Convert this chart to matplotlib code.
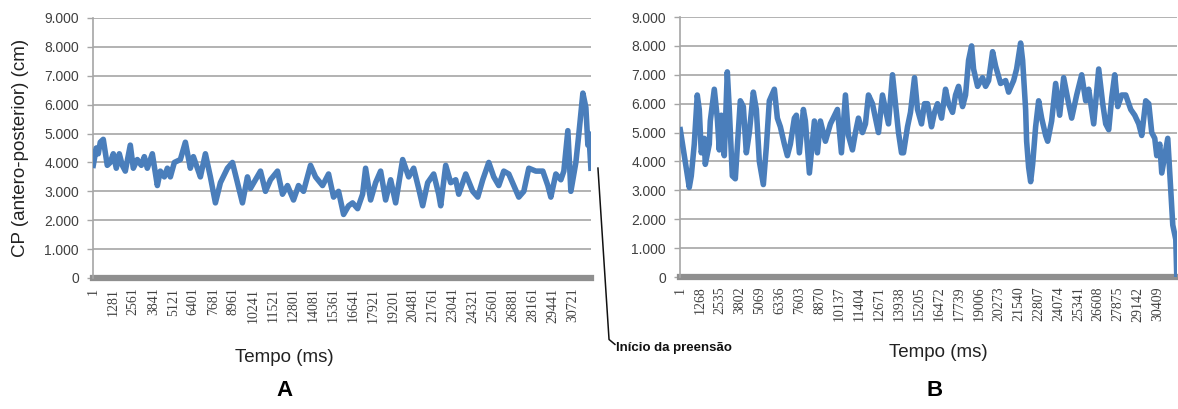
import matplotlib
matplotlib.use("Agg")
import matplotlib.pyplot as plt
from matplotlib.ticker import FuncFormatter
from matplotlib.lines import Line2D

plt.rcParams['font.family'] = ['Liberation Sans', 'DejaVu Sans']

# Panel A - time (ms) and CP antero-posterior
timeA = [1, 192, 320, 449, 641, 897, 1090, 1282, 1474, 1666, 1859, 2051, 2371, 2564,
         2820, 3076, 3269, 3461, 3781, 4102, 4294, 4550, 4743, 4935, 5191, 5576, 5896,
         6216, 6409, 6665, 6857, 7178, 7498, 7819, 8139, 8588, 8908, 9229, 9549, 9870,
         10062, 10383, 10703, 11023, 11344, 11793, 12113, 12433, 12818, 13138, 13459,
         13907, 14228, 14677, 15061, 15382, 15702, 16023, 16343, 16599, 16920, 17240,
         17432, 17753, 18073, 18394, 18714, 19035, 19355, 19804, 20188, 20509, 20829,
         21085, 21406, 21791, 22111, 22239, 22560, 22880, 23201, 23393, 23842, 24290,
         24611, 24931, 25316, 25636, 25956, 26277, 26597, 26918, 27238, 27559, 27879,
         28328, 28776, 29097, 29289, 29610, 29930, 30122, 30378, 30571, 30891, 31084,
         31340, 31532, 31660, 31724, 31852]
cpA = [3900, 4500, 4300, 4700, 4800, 3900, 4000, 4300, 3800, 4300, 3900, 3700, 4600, 3800,
       4100, 3900, 4200, 3800, 4300, 3200, 3700, 3500, 3800, 3500, 4000, 4100, 4700,
       3800, 4200, 3800, 3500, 4300, 3500, 2600, 3300, 3800, 4000, 3300, 2600, 3500,
       3100, 3400, 3700, 3000, 3400, 3700, 2900, 3200, 2700, 3200, 3000,
       3900, 3500, 3200, 3600, 2800, 3000, 2200, 2500, 2600, 2400, 2900,
       3800, 2700, 3300, 3700, 2700, 3400, 2600, 4100, 3500, 3800, 3100,
       2500, 3300, 3600, 2900, 2500, 3900, 3300, 3400, 2900, 3600, 3000,
       2800, 3400, 4000, 3500, 3200, 3700, 3600, 3200, 2800, 3000, 3800,
       3700, 3700, 3200, 2800, 3600, 3400, 3700, 5100, 3000, 4000, 5000,
       6400, 5900, 4600, 5000, 3800]

# Panel B
timeB = [1, 319, 573, 701, 892, 1083, 1210, 1338, 1529, 1593, 1848, 1911, 2166, 2357,
         2485, 2612, 2803, 2994, 3122, 3313, 3504, 3631, 3823, 4014, 4205, 4396, 4651,
         4842, 5033, 5288, 5479, 5670, 5989, 6180, 6371, 6626, 6817, 7008, 7263, 7390,
         7581, 7836, 7964, 8219, 8537, 8728, 8919, 9238, 9557, 10002, 10257, 10512,
         10703, 10958, 11149, 11340, 11595, 11786, 11977, 12232, 12423, 12615, 12869,
         13061, 13252, 13507, 13698, 13889, 14080, 14207, 14462, 14653, 14908, 15099,
         15354, 15545, 15736, 15991, 16182, 16373, 16628, 16883, 17074, 17329, 17520,
         17711, 17966, 18157, 18348, 18540, 18667, 18922, 19240, 19432, 19623, 19878,
         20069, 20387, 20706, 20897, 21215, 21407, 21661, 21789, 21980, 22044, 22171,
         22299, 22426, 22617, 22808, 23000, 23254, 23382, 23636, 23891, 24146, 24401,
         24719, 24911, 25229, 25548, 25803, 25994, 26312, 26631, 26886, 27077, 27268,
         27459, 27650, 27841, 28096, 28351, 28670, 28924, 29179, 29370, 29625, 29816,
         30007, 30198, 30326, 30517, 30644, 30835, 31026, 31217, 31345, 31536, 31600]
cpB = [5100, 4000, 3100, 3500, 4600, 6300, 5800, 4300, 4800, 3900, 4600, 5400, 6500, 5500,
       4400, 5600, 4200, 7100, 5800, 3500, 3400, 4500, 6100, 5900, 4300, 5000, 6400,
       5800, 4000, 3200, 4500, 6100, 6500, 5500, 5200, 4600, 4200, 4600, 5500, 5600,
       4300, 5800, 5400, 3600, 5400, 4300, 5400, 4700, 5300, 5800, 4300, 6300,
       4900, 4400, 5000, 5500, 5000, 5300, 6300, 6000, 5500, 5000, 6300,
       5800, 5300, 7000, 6000, 5000, 4300, 4300, 5200, 5700, 6900, 5800,
       5300, 6000, 6000, 5200, 5700, 6000, 5500, 6500, 6000, 5700, 6300,
       6600, 5900, 6300, 7500, 8000, 7200, 6600, 6900, 6600, 6800, 7800,
       7300, 6700, 6800, 6400, 6800, 7200, 8100, 7500, 5800, 4700, 3800,
       3300, 3900, 5200, 6100, 5500, 4900, 4700, 5400, 6700, 5600, 6900,
       6000, 5500, 6300, 7000, 6100, 6500, 5300, 7200, 6000, 5300, 5100,
       6200, 7000, 5900, 6300, 6300, 5800, 5600, 5300, 4900, 6100, 6000,
       5000, 4800, 4200, 4600, 3600, 4200, 4800, 3000, 1800, 1300, 0]

ticksA = [1, 1281, 2561, 3841, 5121, 6401, 7681, 8961, 10241, 11521, 12801, 14081, 15361,
          16641, 17921, 19201, 20481, 21761, 23041, 24321, 25601, 26881, 28161, 29441, 30721]
ticksB = [1, 1268, 2535, 3802, 5069, 6336, 7603, 8870, 10137, 11404, 12671, 13938, 15205,
          16472, 17739, 19006, 20273, 21540, 22807, 24074, 25341, 26608, 27875, 29142, 30409]
yTicks = [0, 1000, 2000, 3000, 4000, 5000, 6000, 7000, 8000, 9000]

lineColor = '#4a7ebb'
gridColor = '#a6a6a6'
textColor = '#404040'


def thousands(v, pos):
    if v == 0:
        return '0'
    return '{:,.0f}'.format(v).replace(',', '.')


fig = plt.figure(figsize=(11.78, 4.09), dpi=100)
axA = fig.add_axes([0.0789, 0.3203, 0.4228, 0.6357])
axB = fig.add_axes([0.5772, 0.3227, 0.4219, 0.6357])

for ax, t, cp, ticks, xmax in [(axA, timeA, cpA, ticksA, 31860), (axB, timeB, cpB, ticksB, 31610)]:
    ax.plot(t, cp, color=lineColor, linewidth=4.0, solid_joinstyle='round', zorder=3)
    ax.set_xlim(-20, xmax)
    ax.set_ylim(0, 9000)
    ax.set_yticks(yTicks)
    ax.yaxis.set_major_formatter(FuncFormatter(thousands))
    ax.set_xticks(ticks)
    ax.set_xticklabels([str(v) for v in ticks], rotation=90, family='Liberation Serif',
                       fontsize=10, color=textColor)
    ax.tick_params(axis='x', length=0, pad=7)
    ax.tick_params(axis='y', length=4, width=1, color=gridColor, labelsize=10,
                   labelcolor=textColor, pad=6)
    for y in yTicks[1:]:
        ax.axhline(y, color=gridColor, linewidth=1.2, zorder=1)
    # thick grey category axis
    ax.axhline(0, color='#8f8f8f', linewidth=4.5, zorder=2, clip_on=False)
    for s in ['top', 'right', 'bottom']:
        ax.spines[s].set_visible(False)
    ax.spines['left'].set_color(gridColor)
    ax.spines['left'].set_linewidth(1.2)

axA.set_ylabel('CP (antero-posterior) (cm)', fontsize=13.5, color='#222222', labelpad=11)

fig.text(0.2411, 0.127, 'Tempo (ms)', fontsize=13.5, color='#222222', ha='center', va='center')
fig.text(0.7963, 0.139, 'Tempo (ms)', fontsize=13.5, color='#222222', ha='center', va='center')

fig.text(0.2411, 0.046, 'A', fontsize=16, fontweight='bold', ha='center', va='center')
fig.text(0.7937, 0.046, 'B', fontsize=16, fontweight='bold', ha='center', va='center')

# marker for the start of the grip
fig.add_artist(Line2D([0.5076, 0.5170, 0.5220], [0.589, 0.170, 0.158],
                      color='#111111', linewidth=1.1))
fig.text(0.5225, 0.149, 'Início da preensão', fontsize=9.5, fontweight='bold',
         ha='left', va='center', color='#111111')

plt.savefig('out.png', dpi=100)
